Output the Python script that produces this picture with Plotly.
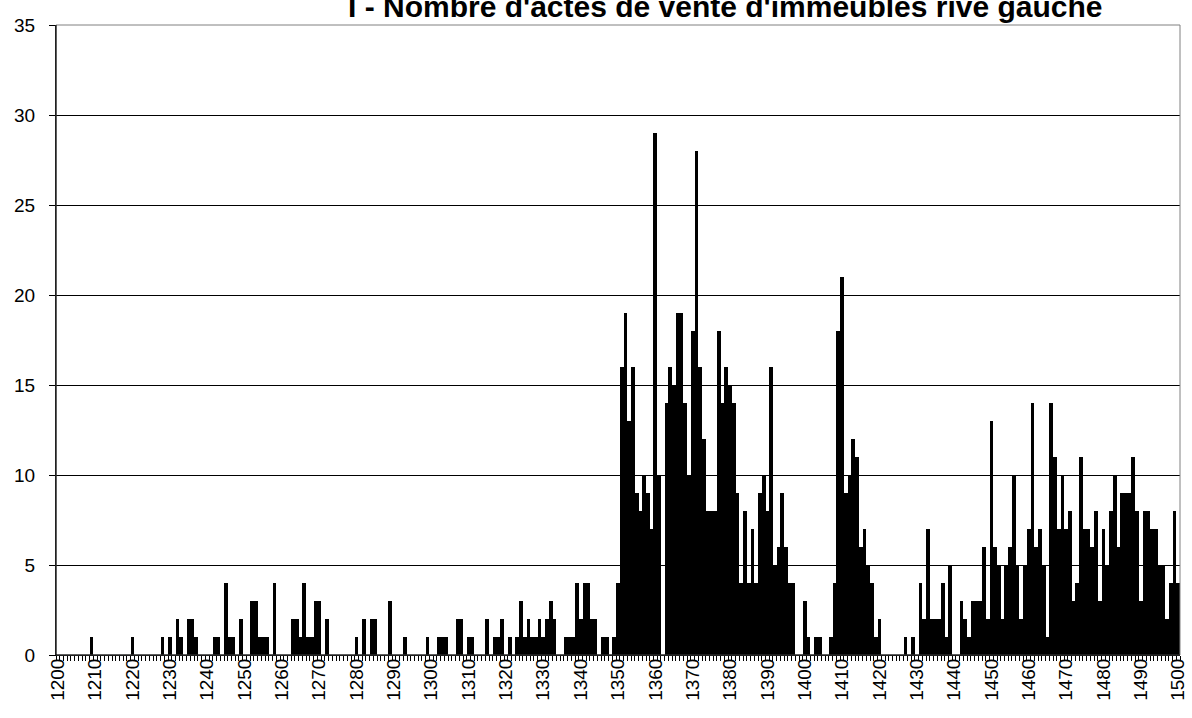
import plotly.graph_objects as go

# ---- data: number of sale deeds per year (1200-1500) ----
counts_1200_1249 = [0,0,0,0,0,0,0,0,0,1,
                    0,0,0,0,0,0,0,0,0,0,
                    1,0,0,0,0,0,0,0,1,0,
                    1,0,2,1,0,2,2,1,0,0,
                    0,0,1,1,0,4,1,1,0,2]
counts_1250_1299 = [0,0,3,3,1,1,1,0,4,0,
                    0,0,0,2,2,1,4,1,1,3,
                    3,0,2,0,0,0,0,0,0,0,
                    1,0,2,0,2,2,0,0,0,3,
                    0,0,0,1,0,0,0,0,0,1]
counts_1300_1349 = [0,0,1,1,1,0,0,2,2,0,
                    1,1,0,0,0,2,0,1,1,2,
                    0,1,0,1,3,1,2,1,1,2,
                    1,2,3,2,0,0,1,1,1,4,
                    2,4,4,2,2,0,1,1,0,1]
counts_1350_1399 = [4,16,19,13,16,9,8,10,9,7,
                    29,10,0,14,16,15,19,19,14,10,
                    18,28,16,12,8,8,8,18,14,16,
                    15,14,9,4,8,4,7,4,9,10,
                    8,16,5,6,9,6,4,4,0,0]
counts_1400_1449 = [3,1,0,1,1,0,0,1,4,18,
                    21,9,10,12,11,6,7,5,4,1,
                    2,0,0,0,0,0,0,1,0,1,
                    0,4,2,7,2,2,2,4,1,5,
                    0,0,3,2,1,3,3,3,6,2]
counts_1450_1500 = [13,6,5,2,5,6,10,5,2,5,
                    7,14,6,7,5,1,14,11,7,10,
                    7,8,3,4,11,7,7,6,8,3,
                    7,5,8,10,6,9,9,9,11,8,
                    3,8,8,7,7,5,5,2,4,8,
                    4]

first_year = 1200
last_year = 1500
tick_years = list(range(1200, 1501, 10))
y_ticks = [0, 5, 10, 15, 20, 25, 30, 35]
title_text = "I - Nombre d'actes de vente d'immeubles rive gauche"

counts = (counts_1200_1249 + counts_1250_1299 + counts_1300_1349 +
          counts_1350_1399 + counts_1400_1449 + counts_1450_1500)
years = list(range(first_year, last_year + 1))

FONT = "Liberation Sans, Arial, sans-serif"

fig = go.Figure(go.Bar(x=years, y=counts, marker=dict(color="black", line=dict(width=0))))

fig.update_layout(
    width=1192, height=718,
    margin=dict(l=56, r=4, t=25, b=63, pad=0),
    plot_bgcolor="white", paper_bgcolor="white",
    bargap=0,
    showlegend=False,
    font=dict(family=FONT, color="black", size=19),
)

fig.update_xaxes(
    range=[first_year - 0.5, last_year + 0.5],
    tickmode="array", tickvals=tick_years, ticktext=[str(t) for t in tick_years],
    tickangle=-90, ticks="", ticklabelstandoff=-5, ticklabeloverflow="allow",
    showline=True, linecolor="black", linewidth=1,
    showgrid=False, zeroline=False,
    tickfont=dict(family=FONT, size=19, color="black"),
    minor=dict(ticks="outside", tickmode="linear", tick0=first_year - 0.5, dtick=1,
               ticklen=5, tickwidth=1, tickcolor="black", showgrid=False),
)

fig.update_yaxes(
    range=[0, 35], tickmode="array", tickvals=y_ticks,
    ticks="outside", ticklen=6, tickcolor="black", tickwidth=1,
    ticklabelstandoff=10,
    showline=True, linecolor="black", linewidth=1,
    showgrid=True, gridcolor="black", gridwidth=1, zeroline=False,
    tickfont=dict(family=FONT, size=19, color="black"),
)

# grey frame (top / right) of the plot area
fig.add_shape(type="rect", xref="paper", yref="paper", x0=0, x1=1, y0=0, y1=1,
              line=dict(color="#808080", width=1), fillcolor="rgba(0,0,0,0)", layer="above")
# redraw black left/bottom axis on top of frame
fig.add_shape(type="line", xref="paper", yref="paper", x0=0, x1=0, y0=0, y1=1,
              line=dict(color="black", width=1), layer="above")
fig.add_shape(type="line", xref="paper", yref="paper", x0=0, x1=1, y0=0, y1=0,
              line=dict(color="black", width=1), layer="above")

# title, partly cut by the top edge as in the source picture
fig.add_annotation(
    text="<b>" + title_text + "</b>",
    xref="paper", yref="paper", x=0.5954, y=1.0,
    xanchor="center", yanchor="bottom", showarrow=False,
    font=dict(family=FONT, size=30, color="black"),
)

fig.write_html(
    "out.html",
    config={"displayModeBar": False},
    post_script="document.body.style.margin='0px';document.body.style.padding='0px';",
)
